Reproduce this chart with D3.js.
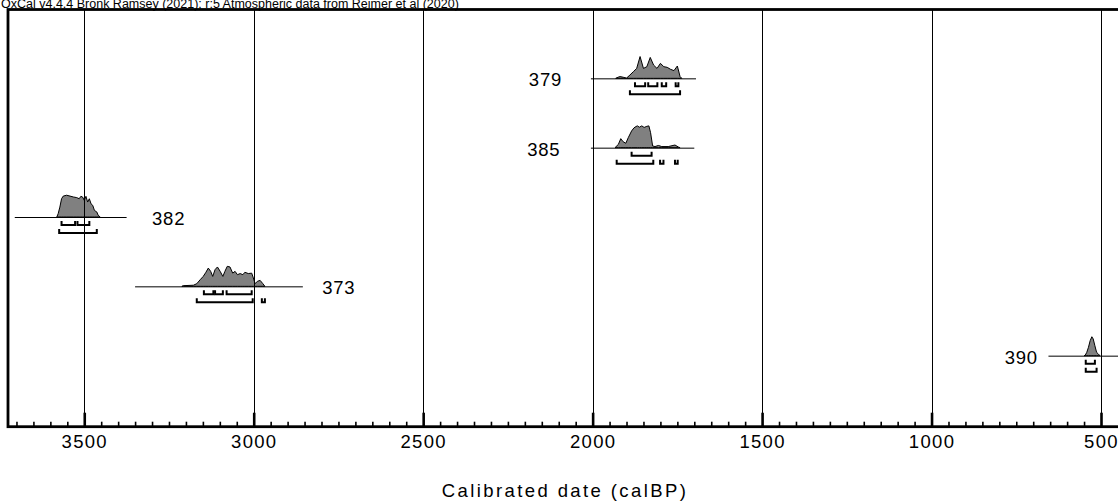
<!DOCTYPE html>
<html>
<head>
<meta charset="utf-8">
<script src="https://cdn.jsdelivr.net/npm/d3@7"></script>
<style>
  body { margin: 0; background: #fff; }
  svg { display: block; font-family: "Liberation Sans", Arial, sans-serif; }
</style>
</head>
<body>
<div id="chart"></div>
<script>
const w = 1118;
const h = 502;

// sample names, top to bottom
const names = ["379", "385", "382", "373", "390"];

// extent of each sample's horizontal line (calBP)
const lineFrom = [2005, 2005, 3705, 3350, 655];
const lineTo = [1695, 1700, 3375, 2855, 350];

// where the name sits (calBP) and which side of that point
const labelAt = [2090, 2095, 3300, 2798, 686];
const labelSide = ["left", "left", "right", "right", "left"];

// probability distributions: [calBP, relative prob]
const dist379 = [[1932,0],[1925,5],[1919,8],[1910,5],[1900,1],[1890,15],[1880,30],[1870,45],[1860,99],[1850,45],[1840,53],[1830,95],[1820,60],[1810,45],[1800,68],[1790,53],[1780,50],[1770,41],[1760,35],[1750,56],[1742,8],[1737,0]];
const dist385 = [[1934,0],[1924,15],[1917,41],[1910,27],[1902,20],[1895,45],[1885,76],[1878,90],[1872,96],[1868,99],[1862,93],[1855,99],[1848,92],[1840,97],[1834,99],[1829,68],[1823,8],[1816,5],[1806,10],[1796,5],[1777,5],[1757,12],[1747,3],[1742,0]];
const dist382 = [[3581,0],[3577,15],[3572,45],[3567,83],[3562,95],[3552,99],[3542,95],[3532,91],[3522,88],[3515,83],[3510,94],[3505,91],[3500,76],[3495,94],[3490,68],[3485,83],[3480,60],[3475,53],[3470,30],[3463,23],[3459,8],[3453,0]];
const dist373 = [[3212,0],[3208,3],[3178,5],[3168,12],[3158,30],[3149,45],[3141,64],[3134,83],[3127,68],[3121,45],[3114,76],[3107,88],[3099,68],[3091,45],[3085,68],[3078,91],[3070,88],[3062,60],[3055,68],[3048,53],[3040,58],[3032,53],[3026,64],[3016,58],[3006,60],[3001,38],[2996,12],[2989,23],[2981,27],[2973,12],[2967,0]];
const dist390 = [[550,0],[547,1],[542,15],[537,38],[532,68],[527,86],[523,76],[518,45],[513,15],[508,8],[503,0]];
const dists = [dist379, dist385, dist382, dist373, dist390];

// 68.2% and 95.4% ranges (calBP)
const range68 = [
  [[1875,1845],[1836,1809],[1796,1783],[1755,1747]],
  [[1885,1826]],
  [[3567,3527],[3520,3485]],
  [[3147,3119],[3114,3091],[3080,3006]],
  [[545,518]]
];
const range95 = [
  [[1890,1742]],
  [[1929,1821],[1801,1791],[1757,1749]],
  [[3574,3463]],
  [[3168,3003],[2976,2967]],
  [[545,513]]
];

const majorTicks = [3500, 3000, 2500, 2000, 1500, 1000, 500];

const titleText = "OxCal v4.4.4 Bronk Ramsey (2021); r:5 Atmospheric data from Reimer et al (2020)";
const axisTitle = "Calibrated date (calBP)";

const plotLeft = 8;
const plotTop = 9.5;
const plotBottom = 426.7;

const x = d3.scaleLinear().domain([3725, 500]).range([plotLeft, 1101]);
const yRow = d3.scalePoint().domain(names).range([9, 425]).padding(1);
const yProb = d3.scaleLinear().domain([0, 100]).range([0, 22]);

const svg = d3.select("#chart").append("svg").attr("width", w).attr("height", h);

// distributions
const area = d3.area()
  .x(d => x(d[0]))
  .y0(0)
  .y1(d => -yProb(d[1]))
  .curve(d3.curveLinear);

const rows = svg.selectAll("g.row")
  .data(names)
  .enter()
  .append("g")
  .attr("class", "row")
  .attr("transform", d => "translate(0," + yRow(d) + ")");

rows.append("path")
  .attr("d", (d, i) => area(dists[i]))
  .style("fill", "#808080")
  .style("stroke", "#000")
  .style("stroke-width", 1)
  .style("stroke-linejoin", "round");

rows.append("line")
  .attr("x1", (d, i) => x(lineFrom[i]))
  .attr("x2", (d, i) => Math.min(x(lineTo[i]), w + 20))
  .attr("y1", 0.5)
  .attr("y2", 0.5)
  .style("stroke", "#000")
  .style("stroke-width", 1);

function bracket(r, off) {
  const a = x(r[0]), b = x(r[1]);
  return "M" + a + "," + (off - 4) + "V" + off + "H" + b + "V" + (off - 4);
}

rows.each(function (d, i) {
  const g = d3.select(this);
  g.selectAll("path.r68")
    .data(range68[i])
    .enter()
    .append("path")
    .attr("class", "r68")
    .attr("d", r => bracket(r, 8))
    .style("fill", "none")
    .style("stroke", "#000")
    .style("stroke-width", 2);
  g.selectAll("path.r95")
    .data(range95[i])
    .enter()
    .append("path")
    .attr("class", "r95")
    .attr("d", r => bracket(r, 16))
    .style("fill", "none")
    .style("stroke", "#000")
    .style("stroke-width", 2);
});

rows.append("text")
  .attr("x", (d, i) => x(labelAt[i]))
  .attr("y", 8)
  .attr("text-anchor", (d, i) => labelSide[i] === "left" ? "end" : "start")
  .style("font-size", "18.5px")
  .style("letter-spacing", "0.8px")
  .style("fill", "#000")
  .text(d => d);

// vertical grid at the major ticks
svg.selectAll("line.grid")
  .data(majorTicks)
  .enter()
  .append("line")
  .attr("class", "grid")
  .attr("x1", d => Math.round(x(d)) + 0.5)
  .attr("x2", d => Math.round(x(d)) + 0.5)
  .attr("y1", plotTop)
  .attr("y2", plotBottom)
  .style("stroke", "#000")
  .style("stroke-width", 1);

// minor ticks every 50 years
const minorAxis = d3.axisBottom(x)
  .tickValues(d3.range(500, 3701, 50).filter(v => v % 500 !== 0))
  .tickSize(-5)
  .tickFormat("");

svg.append("g")
  .attr("transform", "translate(0," + plotBottom + ")")
  .call(minorAxis)
  .call(g => g.select(".domain").remove())
  .call(g => g.selectAll(".tick line").style("stroke", "#000").style("stroke-width", 1.6));

const majorAxis = d3.axisBottom(x)
  .tickValues(majorTicks)
  .tickSize(-14)
  .tickPadding(8)
  .tickFormat(d3.format("d"));

svg.append("g")
  .attr("transform", "translate(0," + plotBottom + ")")
  .call(majorAxis)
  .call(g => g.select(".domain").remove())
  .call(g => g.selectAll(".tick line").style("stroke", "#000").style("stroke-width", 2.6))
  .call(g => g.selectAll(".tick text")
    .style("font-family", "'Liberation Sans', Arial, sans-serif")
    .style("font-size", "18.5px")
    .style("letter-spacing", "1.3px")
    .style("fill", "#000"));

// frame
svg.append("rect")
  .attr("x", plotLeft)
  .attr("y", plotTop)
  .attr("width", x(430) - plotLeft)
  .attr("height", plotBottom - plotTop)
  .style("fill", "none")
  .style("stroke", "#000")
  .style("stroke-width", 2.8);

// texts
svg.append("text")
  .attr("x", 1)
  .attr("y", 7.5)
  .style("font-size", "12.5px")
  .style("fill", "#000")
  .text(titleText);

svg.append("text")
  .attr("x", 565)
  .attr("y", 497)
  .attr("text-anchor", "middle")
  .style("font-size", "18.5px")
  .style("letter-spacing", "2.4px")
  .style("fill", "#000")
  .text(axisTitle);
</script>
</body>
</html>
